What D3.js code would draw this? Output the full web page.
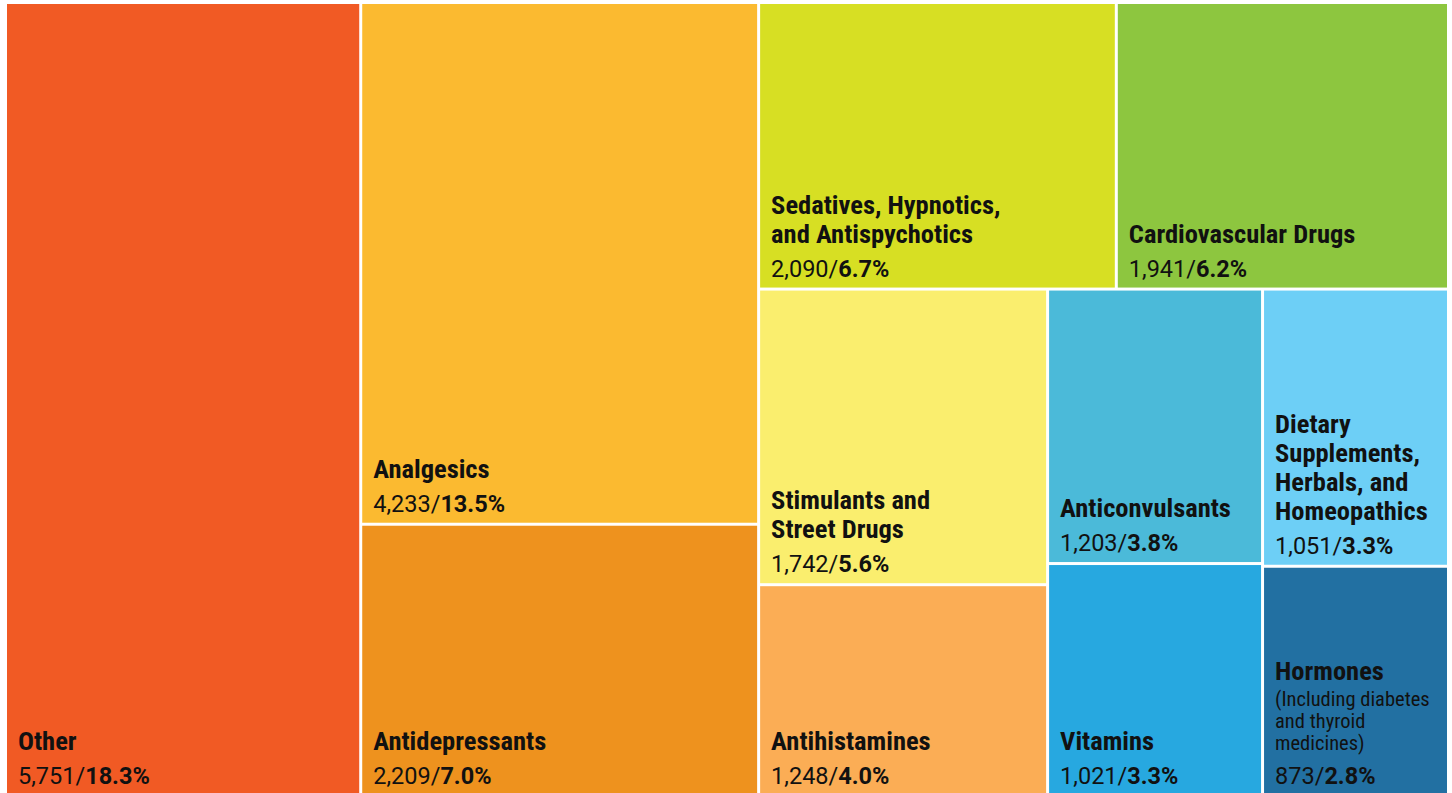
<!DOCTYPE html>
<html>
<head>
<meta charset="utf-8">
<script src="https://cdn.jsdelivr.net/npm/d3@7"></script>
<style>
  body { margin: 0; background: #fff; }
  svg { display: block; }
  .name { font-family: "Roboto Condensed", Roboto, sans-serif; font-weight: 700; font-size: 26.5px; fill: #111; }
  .sub { font-family: "Roboto Condensed", Roboto, sans-serif; font-weight: 400; font-size: 20.5px; fill: #111; }
  .val { font-family: Roboto, sans-serif; font-weight: 400; font-size: 23.5px; fill: #111; }
</style>
</head>
<body>
<svg id="chart" width="1452" height="793"></svg>
<script>
// data
const categories = ["Other", "Analgesics", "Antidepressants", "Sedatives, Hypnotics, and Antispychotics",
  "Cardiovascular Drugs", "Stimulants and Street Drugs", "Antihistamines", "Anticonvulsants",
  "Vitamins", "Dietary Supplements, Herbals, and Homeopathics", "Hormones"];
const values = [5751, 4233, 2209, 2090, 1941, 1742, 1248, 1203, 1021, 1051, 873];
const percents = [18.3, 13.5, 7.0, 6.7, 6.2, 5.6, 4.0, 3.8, 3.3, 3.3, 2.8];
const colors = ["#f15a24", "#fbba30", "#ee921e", "#d7df23", "#8dc63f", "#faee6e", "#fbad55",
  "#4bbad9", "#27a8e0", "#6dcff6", "#2270a2"];
// how the labels wrap
const nameLines = {
  "Sedatives, Hypnotics, and Antispychotics": ["Sedatives, Hypnotics,", "and Antispychotics"],
  "Stimulants and Street Drugs": ["Stimulants and", "Street Drugs"],
  "Dietary Supplements, Herbals, and Homeopathics": ["Dietary", "Supplements,", "Herbals, and", "Homeopathics"]
};
const subLines = { "Hormones": ["(Including diabetes", "and thyroid", "medicines)"] };

// grouping: h = side by side, v = stacked
const groups = {
  dir: "h", children: [
    { leaf: 0 },
    { dir: "v", children: [{ leaf: 1 }, { leaf: 2 }] },
    { dir: "v", children: [
      { dir: "h", children: [{ leaf: 3 }, { leaf: 4 }] },
      { dir: "h", children: [
        { dir: "v", children: [{ leaf: 5 }, { leaf: 6 }] },
        { dir: "v", children: [{ leaf: 7 }, { leaf: 8 }] },
        { dir: "v", children: [{ leaf: 9 }, { leaf: 10 }] }
      ]}
    ]}
  ]
};

const svg = d3.select("#chart");
const fmt = d3.format(",");

const root = d3.hierarchy(groups)
  .sum(d => d.leaf !== undefined ? values[d.leaf] : 0);

d3.treemap()
  .tile((node, x0, y0, x1, y1) => {
    (node.data.dir === "v" ? d3.treemapSlice : d3.treemapDice)(node, x0, y0, x1, y1);
  })
  .size([1440, 791])
  .paddingInner(3)
  .round(false)(root);

const g0 = svg.append("g").attr("transform", "translate(7,4)");

const cell = g0.selectAll("g.cell")
  .data(root.leaves())
  .enter().append("g")
  .attr("class", "cell")
  .attr("transform", d => "translate(" + d.x0 + "," + d.y0 + ")");

cell.append("rect")
  .attr("width", d => d.x1 - d.x0)
  .attr("height", d => d.y1 - d.y0)
  .attr("fill", d => colors[d.data.leaf]);

cell.each(function (d) {
  const i = d.data.leaf;
  const g = d3.select(this);
  const h = d.y1 - d.y0;
  const cat = categories[i];
  const lines = nameLines[cat] || [cat];
  const subs = subLines[cat] || [];
  let y = h - 11;

  const v = g.append("text").attr("class", "val").attr("x", 11).attr("y", y);
  v.append("tspan").text(fmt(values[i]) + "/");
  v.append("tspan").attr("font-weight", 700).text(percents[i].toFixed(1) + "%");

  y -= 34;
  subs.slice().reverse().forEach(s => {
    g.append("text").attr("class", "sub").attr("x", 11).attr("y", y).text(s);
    y -= 22;
  });
  if (subs.length) y -= 4;
  lines.slice().reverse().forEach(s => {
    g.append("text").attr("class", "name").attr("x", 11).attr("y", y).text(s);
    y -= 29;
  });
});
</script>
</body>
</html>
